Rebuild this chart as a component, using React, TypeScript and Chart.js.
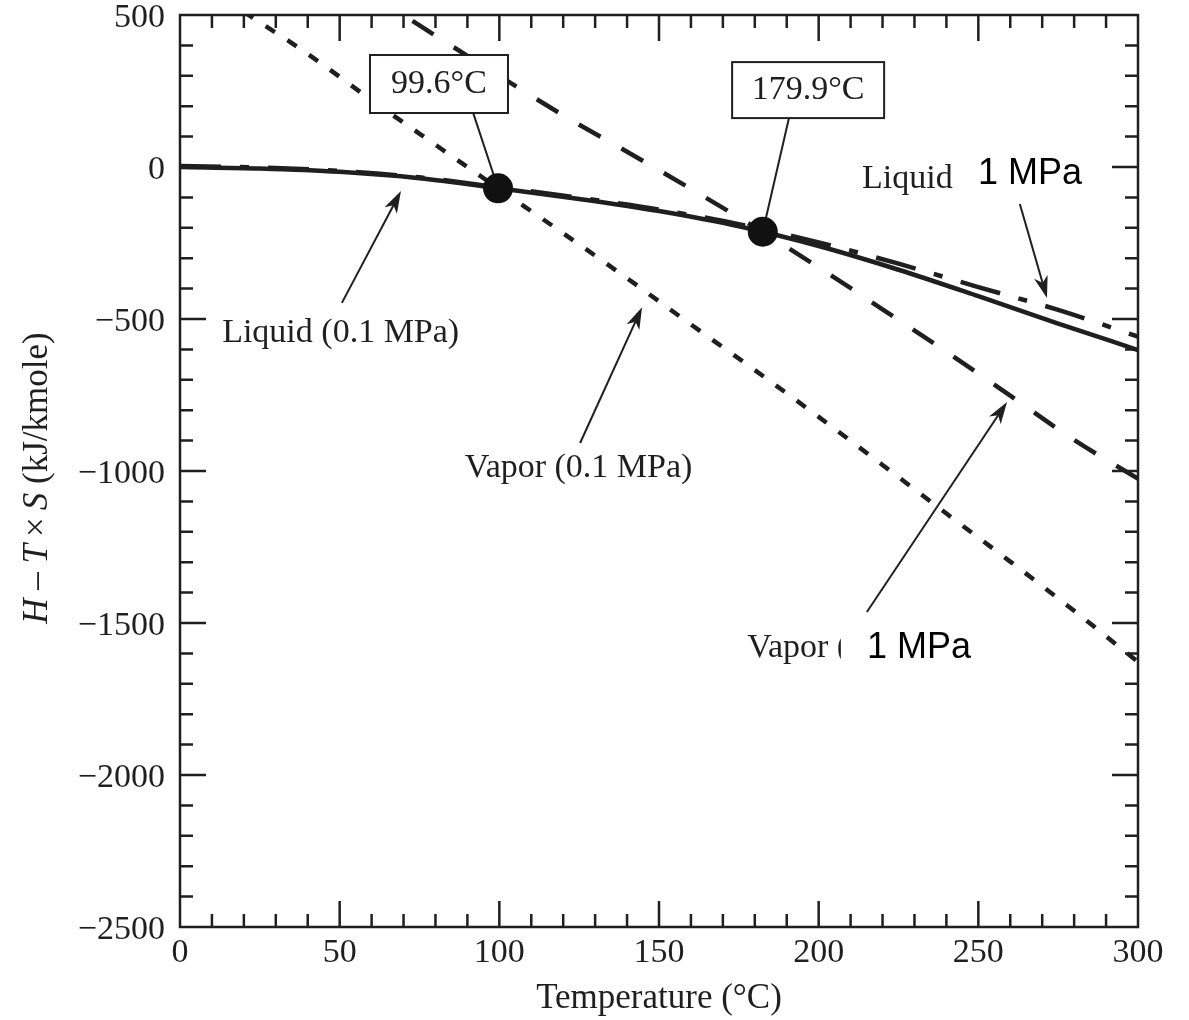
import React, { useEffect, useRef } from 'react';
import { Chart, registerables } from 'chart.js';

Chart.register(...registerables);

// ---- data ----
const liquidLowT = [0, 25, 50, 75, 100, 125, 150, 175, 200, 225, 250, 275, 300];
const liquidLowG = [0, -5, -16, -37, -70, -105, -145, -195, -260, -338, -425, -515, -602];

const liquidHighT = [0, 25, 50, 75, 100, 125, 150, 175, 200, 225, 250, 275, 300];
const liquidHighG = [3, -2, -13, -34, -67, -101, -140, -188, -248, -318, -395, -470, -558];

const vaporLowT = [20, 40, 60, 80, 99.6, 120, 140, 160, 180, 200, 220, 240, 260, 280, 300];
const vaporLowG = [510, 372, 220, 73, -70, -218, -366, -518, -668, -822, -980, -1140, -1298, -1460, -1628];

const vaporHighT = [60, 70, 80, 100, 120, 140, 160, 180, 200, 220, 240, 260, 280, 300];
const vaporHighG = [570, 500, 432, 300, 170, 50, -72, -198, -330, -468, -608, -752, -898, -1025];

const crossingT = [99.6, 182.5];
const crossingG = [-70, -213];
const crossingLabels = ['99.6°C', '179.9°C'];

const xTickValues = [0, 50, 100, 150, 200, 250, 300];
const yTickValues = [-2500, -2000, -1500, -1000, -500, 0, 500];

const INK = '#1f1f1f';
const SERIF = '"Liberation Serif", "Times New Roman", serif';
const SANS = '"Liberation Sans", Arial, sans-serif';
const FS = 34;

const toXY = (xs: number[], ys: number[]) => xs.map((x, i) => ({ x, y: ys[i] }));

const fmt = (v: number) => (v < 0 ? '\u2212' + Math.abs(v) : String(v));

function drawArrow(ctx: CanvasRenderingContext2D, x1: number, y1: number, x2: number, y2: number) {
  const a = Math.atan2(y2 - y1, x2 - x1);
  const c = Math.cos(a), s = Math.sin(a);
  const L = 22, W = 7, N = 6;
  ctx.save();
  ctx.strokeStyle = INK;
  ctx.fillStyle = INK;
  ctx.lineWidth = 2;
  ctx.beginPath();
  ctx.moveTo(x1, y1);
  ctx.lineTo(x2 - (L - N) * c, y2 - (L - N) * s);
  ctx.stroke();
  const bx = x2 - L * c, by = y2 - L * s;
  ctx.beginPath();
  ctx.moveTo(x2, y2);
  ctx.lineTo(bx - W * s, by + W * c);
  ctx.lineTo(x2 - (L - N) * c, y2 - (L - N) * s);
  ctx.lineTo(bx + W * s, by - W * c);
  ctx.closePath();
  ctx.fill();
  ctx.restore();
}

const annotationPlugin = {
  id: 'annotations',
  beforeDatasetsDraw(chart: any) {
    const ctx = chart.ctx as CanvasRenderingContext2D;
    const xs = chart.scales.x, ys = chart.scales.y;
    // leader lines from boxes to the saturation points
    const leaderTops = [
      { x: 91.8, y: 178 },
      { x: 190.7, y: 161 },
    ];
    ctx.save();
    ctx.strokeStyle = INK;
    ctx.lineWidth = 2;
    leaderTops.forEach((p, i) => {
      ctx.beginPath();
      ctx.moveTo(xs.getPixelForValue(p.x), ys.getPixelForValue(p.y));
      ctx.lineTo(xs.getPixelForValue(crossingT[i]), ys.getPixelForValue(crossingG[i]));
      ctx.stroke();
    });
    ctx.restore();
  },
  afterDatasetsDraw(chart: any) {
    const ctx = chart.ctx as CanvasRenderingContext2D;
    const xs = chart.scales.x, ys = chart.scales.y;
    const px = (v: number) => xs.getPixelForValue(v);
    const py = (v: number) => ys.getPixelForValue(v);

    // boxes
    const boxes = [
      { x: 81.1, y: 273, w: 138, h: 58 },
      { x: 196.7, y: 253, w: 152, h: 56 },
    ];
    ctx.save();
    boxes.forEach((b, i) => {
      const cx = px(b.x), cy = py(b.y);
      ctx.fillStyle = '#fff';
      ctx.fillRect(cx - b.w / 2, cy - b.h / 2, b.w, b.h);
      ctx.strokeStyle = INK;
      ctx.lineWidth = 2;
      ctx.strokeRect(cx - b.w / 2, cy - b.h / 2, b.w, b.h);
      ctx.fillStyle = INK;
      ctx.font = `${FS}px ${SERIF}`;
      ctx.textAlign = 'center';
      ctx.textBaseline = 'middle';
      ctx.fillText(crossingLabels[i], cx, cy);
    });
    ctx.restore();

    // arrows
    const arrows = [
      [50.7, -447, 69.2, -79],
      [125.3, -908, 144.7, -461],
      [263.0, -122, 271.5, -431],
      [215.1, -1464, 259.0, -773],
    ];
    arrows.forEach(a => drawArrow(ctx, px(a[0]), py(a[1]), px(a[2]), py(a[3])));

    // labels
    ctx.save();
    ctx.fillStyle = INK;
    ctx.textAlign = 'left';
    ctx.textBaseline = 'alphabetic';
    ctx.font = `${FS}px ${SERIF}`;
    ctx.fillText('Liquid (0.1 MPa)', px(13.2), py(-576));
    ctx.fillText('Vapor (0.1 MPa)', px(89.2), py(-1020));
    ctx.fillText('Liquid', px(213.6), py(-69));
    const vx = px(177.6), vy = py(-1612);
    ctx.fillText('Vapor', vx, vy);
    const parenX = vx + ctx.measureText('Vapor ').width;
    ctx.save();
    ctx.beginPath();
    ctx.rect(parenX - 1, vy - 40, 5, 60);
    ctx.clip();
    ctx.fillText('(', parenX, vy);
    ctx.restore();
    ctx.fillStyle = '#000';
    ctx.font = `36px ${SANS}`;
    ctx.fillText('1 MPa', px(249.9), py(-56));
    ctx.fillText('1 MPa', px(215.1), py(-1615));
    ctx.restore();
  },
  afterDraw(chart: any) {
    const ctx = chart.ctx as CanvasRenderingContext2D;
    const { left, right, top, bottom } = chart.chartArea;
    const xs = chart.scales.x, ys = chart.scales.y;
    ctx.save();
    ctx.strokeStyle = INK;
    ctx.lineWidth = 2.5;
    ctx.lineCap = 'butt';
    // ticks
    for (let t = 10; t < 300; t += 10) {
      const p = xs.getPixelForValue(t);
      const len = t % 50 === 0 ? 26 : 13;
      ctx.beginPath();
      ctx.moveTo(p, bottom); ctx.lineTo(p, bottom - len);
      ctx.moveTo(p, top); ctx.lineTo(p, top + len);
      ctx.stroke();
    }
    for (let v = -2400; v < 500; v += 100) {
      const p = ys.getPixelForValue(v);
      const len = v % 500 === 0 ? 26 : 13;
      ctx.beginPath();
      ctx.moveTo(left, p); ctx.lineTo(left + len, p);
      ctx.moveTo(right, p); ctx.lineTo(right - len, p);
      ctx.stroke();
    }
    ctx.strokeRect(left, top, right - left, bottom - top);
    ctx.restore();

    // y-axis title with italic symbols
    const parts = [
      { t: 'H', it: true },
      { t: ' \u2013 ', it: false },
      { t: 'T', it: true },
      { t: '\u2009\u00d7\u2009', it: false },
      { t: 'S', it: true },
      { t: ' (kJ/kmole)', it: false },
    ];
    ctx.save();
    ctx.fillStyle = INK;
    ctx.textBaseline = 'alphabetic';
    ctx.textAlign = 'left';
    const fontOf = (it: boolean) => `${it ? 'italic ' : ''}35px ${SERIF}`;
    let total = 0;
    parts.forEach(p => { ctx.font = fontOf(p.it); total += ctx.measureText(p.t).width; });
    const cy = (top + bottom) / 2 + 7;
    ctx.translate(47, cy);
    ctx.rotate(-Math.PI / 2);
    let x = -total / 2;
    parts.forEach(p => {
      ctx.font = fontOf(p.it);
      ctx.fillText(p.t, x, 0);
      x += ctx.measureText(p.t).width;
    });
    ctx.restore();
  },
};

export default function App() {
  const canvasRef = useRef<HTMLCanvasElement | null>(null);

  useEffect(() => {
    const canvas = canvasRef.current;
    if (!canvas) return;
    const lineBase = {
      borderColor: INK,
      borderWidth: 4.5,
      pointRadius: 0,
      fill: false,
      cubicInterpolationMode: 'monotone' as const,
      clip: 0,
    };
    const chart = new Chart(canvas, {
      type: 'line',
      data: {
        datasets: [
          {
            label: 'Saturation points',
            data: toXY(crossingT, crossingG),
            showLine: false,
            pointRadius: 15,
            pointBackgroundColor: '#111',
            pointBorderColor: '#111',
            pointBorderWidth: 0,
            borderColor: '#111',
          } as any,
          { ...lineBase, label: 'Liquid (0.1 MPa)', data: toXY(liquidLowT, liquidLowG) },
          { ...lineBase, label: 'Liquid (1 MPa)', data: toXY(liquidHighT, liquidHighG), borderDash: [41, 19, 9, 19] },
          { ...lineBase, label: 'Vapor (0.1 MPa)', data: toXY(vaporLowT, vaporLowG), borderDash: [11, 15] },
          { ...lineBase, label: 'Vapor (1 MPa)', data: toXY(vaporHighT, vaporHighG), borderDash: [25, 24] },
        ],
      },
      options: {
        animation: false,
        responsive: false,
        devicePixelRatio: 1,
        layout: { padding: { left: 0, top: 15, right: 51, bottom: 0 } },
        plugins: { legend: { display: false }, tooltip: { enabled: false } },
        scales: {
          x: {
            type: 'linear',
            min: 0,
            max: 300,
            grid: { display: false, drawTicks: false },
            border: { display: false },
            afterBuildTicks: (s: any) => { s.ticks = xTickValues.map(v => ({ value: v })); },
            afterFit: (s: any) => { s.height = 93; s.paddingLeft = 0; s.paddingRight = 0; },
            ticks: {
              font: { family: SERIF, size: FS },
              color: INK,
              padding: 6,
              maxRotation: 0,
              autoSkip: false,
              callback: (v: any) => fmt(Number(v)),
            },
            title: {
              display: true,
              text: 'Temperature (°C)',
              font: { family: SERIF, size: 35 },
              color: INK,
              padding: { top: 0, bottom: 0 },
            },
          },
          y: {
            type: 'linear',
            min: -2500,
            max: 500,
            grid: { display: false, drawTicks: false },
            border: { display: false },
            afterBuildTicks: (s: any) => { s.ticks = yTickValues.map(v => ({ value: v })); },
            afterFit: (s: any) => { s.width = 180; s.paddingTop = 0; s.paddingBottom = 0; },
            ticks: {
              font: { family: SERIF, size: FS },
              color: INK,
              padding: 15,
              labelOffset: 3,
              autoSkip: false,
              callback: (v: any) => fmt(Number(v)),
            },
          },
        },
      } as any,
      plugins: [annotationPlugin],
    });
    return () => chart.destroy();
  }, []);

  return (
    <div style={{ position: 'absolute', left: 0, top: 0, width: 1189, height: 1020, background: '#fff' }}>
      <canvas ref={canvasRef} width={1189} height={1020} style={{ display: 'block' }} />
    </div>
  );
}
